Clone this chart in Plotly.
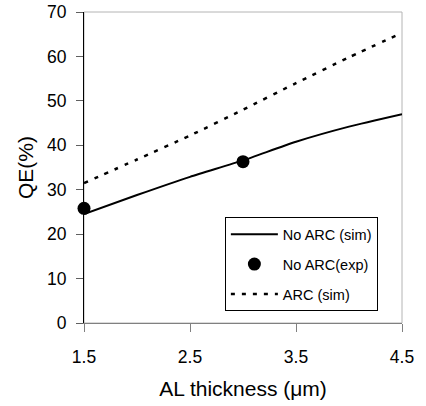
import plotly.graph_objects as go

# Absorber-layer thickness (um) and simulated / measured quantum efficiency (%)
thickness = [1.5, 2.0, 2.5, 3.0, 3.5, 4.0, 4.5]
qe_no_arc_sim = [24.5, 28.8, 32.9, 36.6, 40.8, 44.2, 47.0]
qe_arc_sim = [31.5, 36.8, 42.2, 48.0, 54.0, 59.8, 65.3]

thickness_exp = [1.5, 3.0]
qe_no_arc_exp = [25.8, 36.3]

x_ticks = [1.5, 2.5, 3.5, 4.5]
y_ticks = [0, 10, 20, 30, 40, 50, 60, 70]

FONT = "Arial, Liberation Sans, sans-serif"

fig = go.Figure()
fig.add_trace(go.Scatter(
    x=thickness, y=qe_no_arc_sim, mode="lines", name="No ARC (sim)",
    line=dict(color="black", width=2, shape="spline", smoothing=0.6), legendgroup="a",
))
fig.add_trace(go.Scatter(
    x=thickness_exp, y=qe_no_arc_exp, mode="markers", name="No ARC(exp)",
    marker=dict(color="black", size=13), legendgroup="b", cliponaxis=False,
))
fig.add_trace(go.Scatter(
    x=thickness, y=qe_arc_sim, mode="lines", name="ARC (sim)",
    line=dict(color="black", width=2.5, dash="4px,7px", shape="spline", smoothing=0.6),
    legendgroup="c",
))

# light grey frame around the plotting area
fig.add_shape(type="rect", xref="paper", yref="paper", x0=0, x1=1, y0=0, y1=1,
              line=dict(color="#b4b4b4", width=1), layer="below")

fig.update_layout(
    width=426, height=406,
    margin=dict(l=84, r=24, t=12, b=83),
    paper_bgcolor="white", plot_bgcolor="white",
    font=dict(family=FONT, color="black", size=17.5),
    showlegend=True,
    legend=dict(
        x=0.443, y=0.34, xanchor="left", yanchor="top",
        bgcolor="white", bordercolor="black", borderwidth=1,
        font=dict(size=14.5), traceorder="grouped", tracegroupgap=8,
        itemwidth=47, entrywidth=136, entrywidthmode="pixels",
    ),
    xaxis=dict(
        range=[1.5, 4.5], tickvals=x_ticks, ticktext=[str(v) for v in x_ticks],
        showgrid=False, zeroline=False, showline=True, linecolor="#808080", linewidth=1,
        ticks="outside", ticklen=8, tickcolor="#808080", ticklabelstandoff=10,
        title=dict(text="AL thickness (\u03bcm)", standoff=15), automargin=False,
    ),
    yaxis=dict(
        range=[0, 70], tickvals=y_ticks,
        showgrid=False, zeroline=False, showline=True, linecolor="black", linewidth=1,
        ticks="outside", ticklen=7, tickcolor="#606060", ticklabelstandoff=6,
        title=dict(text="QE(%)", standoff=7), automargin=False,
    ),
)

fig.write_html("out.html")
